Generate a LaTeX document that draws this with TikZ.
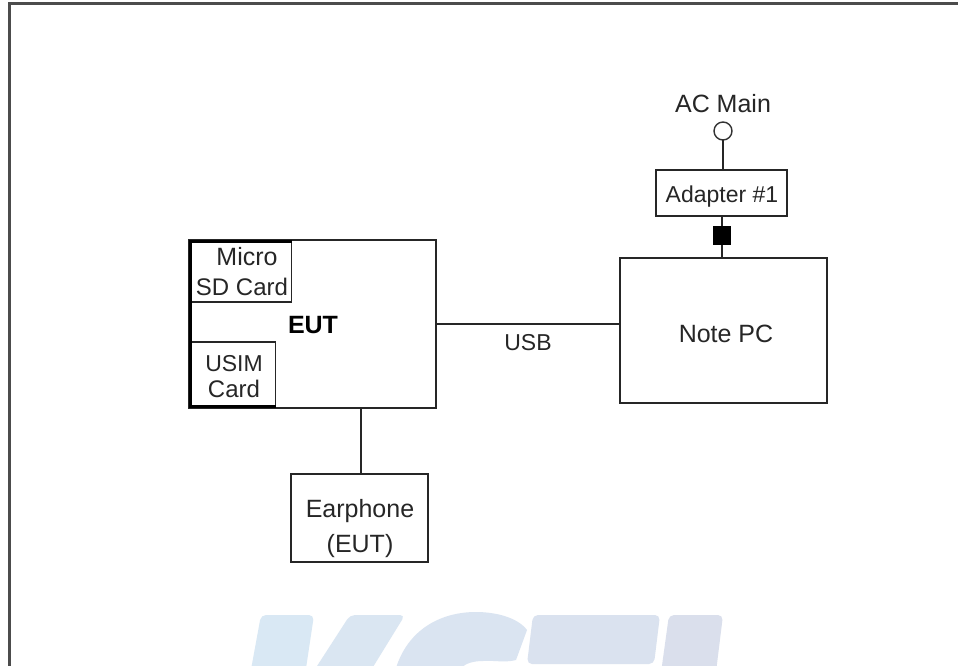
\documentclass[tikz,border=0pt]{standalone}
\usepackage{fontspec}
\setmainfont{Liberation Sans}
\begin{document}
\begin{tikzpicture}[x=1pt,y=-1pt,
  boxs/.style={draw=black!85,line width=1.6pt,fill=white,rectangle,inner sep=0pt,outer sep=0pt,anchor=north west},
  wire/.style={draw=black!85,line width=1.6pt},
  lab/.style={font=\fontsize{23}{23}\selectfont,text=black!85,inner sep=0pt,anchor=base},
  labb/.style={lab,font=\fontsize{24.5}{24.5}\selectfont},
  frameline/.style={draw=black!70,line width=3pt},
  thickedge/.style={draw=black,line width=3.2pt,line cap=butt}]
\useasboundingbox (0,0) rectangle (958,665);
\fill[white] (0,0) rectangle (958,665);
% frame
\begin{scope}
\clip (0,0) rectangle (958,665);
\draw[frameline] (9,670) -- (9,3.5) -- (965,3.5);
% watermark
\definecolor{wa}{HTML}{D9E8F4}\definecolor{wb}{HTML}{DAE6F2}\definecolor{wc}{HTML}{DAE4F1}\definecolor{wd}{HTML}{DAE2EF}\definecolor{we}{HTML}{DADFEC}
\fill[wa,rounded corners=5pt] (250,675) -- (261,615) -- (314,615) -- (305,675) -- cycle;
\fill[wb,rounded corners=5pt] (308,680) -- (350,615) -- (405,615) -- (365,680) -- cycle;
\fill[wc] (396,668) .. controls (408,630) and (440,612) .. (476,612) .. controls (497,612) and (518,618) .. (527,630) -- (516,660) .. controls (505,663) and (492,660) .. (483,661) .. controls (474,661) and (466,663) .. (461,668) -- cycle;
\fill[wd,rounded corners=5pt] (533,615) -- (660,615) -- (654,664) -- (527,664) -- cycle;
\fill[we,rounded corners=5pt] (669,615) -- (723,615) -- (715,680) -- (660,680) -- cycle;
\end{scope}
% main boxes
\node[boxs,minimum width=247pt,minimum height=168pt] (eut) at (189,240) {};
\node[boxs,minimum width=207pt,minimum height=145pt] (pc) at (620,258) {};
\node[boxs,minimum width=137pt,minimum height=88pt] (ear) at (291,474) {};
\node[boxs,minimum width=131pt,minimum height=46pt] (adp) at (656,170) {};
\node[boxs,minimum width=101pt,minimum height=60.5pt] (sd) at (190.5,241.5) {};
\node[boxs,minimum width=85pt,minimum height=64.5pt] (usim) at (190.5,342) {};
\draw[thickedge] (sd.north east) -- (sd.north west) -- (usim.south west);
\draw[thickedge] (usim.south west) ++(-1.6,0) -- (usim.south east);
\node[draw=black!80,line width=1.4pt,fill=white,circle,minimum size=18pt,inner sep=0pt,outer sep=0pt] (ac) at (723,131) {};
\node[fill=black,minimum width=18pt,minimum height=19pt,inner sep=0pt,outer sep=0pt] (sq) at (722,235.5) {};
% connectors
\draw[wire] (ac) -- (adp.north -| ac);
\draw[wire] (adp.south -| sq) -- (sq);
\draw[wire] (sq) -- (pc.north -| sq);
\coordinate (usbpt) at (0,324);
\draw[wire] (eut.east |- usbpt) -- (pc.west |- usbpt);
\coordinate (earx) at (361,0);
\draw[wire] (earx |- eut.south) -- (earx |- ear.north);
% labels
\node[labb,font=\fontsize{25}{25}\selectfont] (t1) at (723,112) {AC Main};
\node[lab] (t2) at (722,202) {Adapter \#1};
\node[labb,font=\fontsize{25}{25}\selectfont] (t3) at (726,342) {Note PC};
\node[lab] (t4) at (528,350) {USB};
\node[labb,font=\fontsize{25}{25}\selectfont] (t5) at (247,265) {Micro};
\node[labb,font=\fontsize{24}{24}\selectfont] (t6) at (242,295) {SD Card};
\node[lab] (t7) at (234,371) {USIM};
\node[labb,font=\fontsize{24}{24}\selectfont] (t8) at (234,397) {Card};
\node[lab,font=\fontsize{25}{25}\selectfont\bfseries,text=black] (t9) at (313,333) {EUT};
\node[labb,font=\fontsize{25}{25}\selectfont] (t10) at (360,517) {Earphone};
\node[labb,font=\fontsize{25}{25}\selectfont] (t11) at (360,552) {(EUT)};
\end{tikzpicture}
\end{document}
